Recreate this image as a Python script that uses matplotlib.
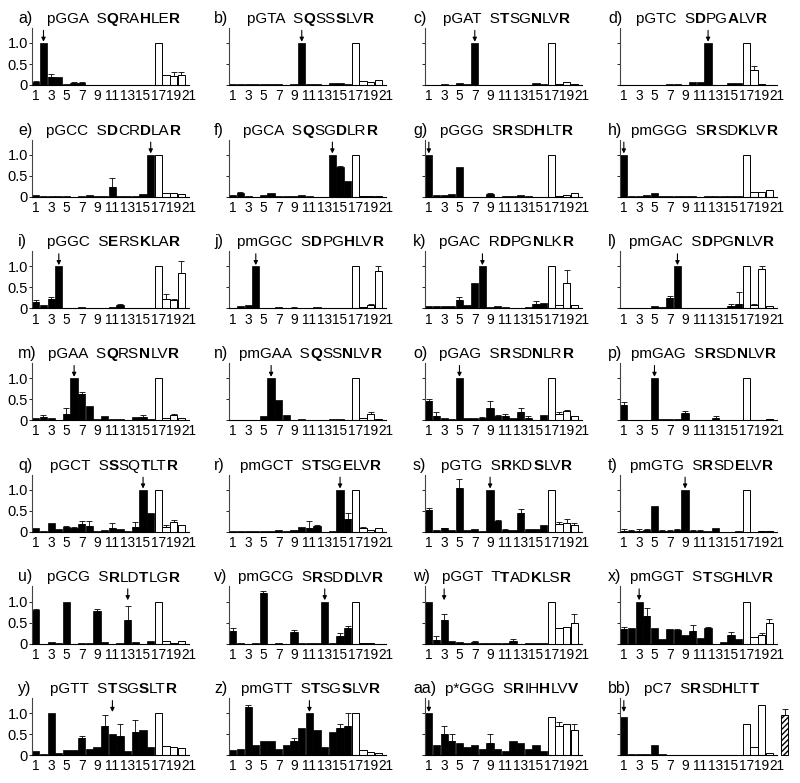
import numpy as np
import matplotlib
matplotlib.use('Agg')
import matplotlib.pyplot as plt
from matplotlib.text import Annotation

plt.rcParams['font.family'] = ['Liberation Sans', 'DejaVu Sans']

# panel labels, plasmid names, peptide sequences, arrowed position
labels = ["a)", "b)", "c)", "d)", "e)", "f)", "g)", "h)", "i)", "j)", "k)", "l)",
          "m)", "n)", "o)", "p)", "q)", "r)", "s)", "t)", "u)", "v)", "w)", "x)",
          "y)", "z)", "aa)", "bb)"]
names = ["pGGA", "pGTA", "pGAT", "pGTC", "pGCC", "pGCA", "pGGG", "pmGGG",
         "pGGC", "pmGGC", "pGAC", "pmGAC", "pGAA", "pmGAA", "pGAG", "pmGAG",
         "pGCT", "pmGCT", "pGTG", "pmGTG", "pGCG", "pmGCG", "pGGT", "pmGGT",
         "pGTT", "pmGTT", "p*GGG", "pC7"]
seqs = ["SQRAHLER", "SQSSSLVR", "STSGNLVR", "SDPGALVR", "SDCRDLAR", "SQSGDLRR",
        "SRSDHLTR", "SRSDKLVR", "SERSKLAR", "SDPGHLVR", "RDPGNLKR", "SDPGNLVR",
        "SQRSNLVR", "SQSSNLVR", "SRSDNLRR", "SRSDNLVR", "SSSQTLTR", "STSGELVR",
        "SRKDSLVR", "SRSDELVR", "SRLDTLGR", "SRSDDLVR", "TTADKLSR", "STSGHLVR",
        "STSGSLTR", "STSGSLVR", "SRIHHLVV", "SRSDHLTT"]
arrows = [2, 10, 7, 12, 16, 14, 1, 1, 4, 4, 8, 8, 6, 6, 5, 5, 15, 15, 9, 9,
          13, 13, 3, 3, 11, 11, 1, 1]

# relative binding, positions 1-16 (black bars)
black = [
    [0.08, 1.0, 0.2, 0.18, 0.02, 0.05, 0.04, 0.01, 0, 0.01, 0.01, 0, 0, 0, 0, 0],
    [0.02, 0.03, 0.03, 0.02, 0.02, 0.02, 0.02, 0.01, 0.03, 1.0, 0.03, 0.02, 0.01, 0.04, 0.04, 0.03],
    [0.01, 0.01, 0.02, 0.01, 0.05, 0.02, 1.0, 0.01, 0.01, 0, 0, 0, 0.01, 0, 0.04, 0.02],
    [0.01, 0.01, 0.01, 0.01, 0.01, 0.01, 0.02, 0.02, 0.01, 0.06, 0.06, 1.0, 0.01, 0.01, 0.04, 0.05],
    [0.03, 0.01, 0.02, 0.01, 0.01, 0, 0.02, 0.03, 0.01, 0.02, 0.22, 0.01, 0.01, 0.02, 0.07, 1.0],
    [0.03, 0.08, 0.02, 0, 0.04, 0.1, 0.02, 0.01, 0.02, 0.03, 0.01, 0, 0, 1.0, 0.7, 0.37],
    [1.0, 0.05, 0.03, 0.06, 0.7, 0, 0, 0, 0.07, 0, 0.01, 0.02, 0.05, 0.01, 0, 0],
    [1.0, 0.01, 0.02, 0.05, 0.1, 0.01, 0.01, 0.01, 0.02, 0.01, 0, 0.02, 0.01, 0.01, 0.01, 0.01],
    [0.15, 0.08, 0.22, 1.0, 0.02, 0.01, 0.03, 0.02, 0.01, 0.01, 0.03, 0.08, 0.01, 0.02, 0.02, 0.02],
    [0.02, 0.06, 0.07, 1.0, 0.02, 0.01, 0.03, 0.01, 0.02, 0.01, 0.01, 0.04, 0, 0.01, 0.01, 0.02],
    [0.05, 0.05, 0.06, 0.05, 0.2, 0.08, 0.6, 1.0, 0.04, 0.05, 0.04, 0.02, 0.02, 0.04, 0.1, 0.12],
    [0, 0, 0, 0, 0.05, 0.03, 0.25, 1.0, 0, 0, 0.01, 0.01, 0, 0.01, 0.05, 0.1],
    [0.05, 0.07, 0.04, 0.01, 0.15, 1.0, 0.62, 0.34, 0.02, 0.1, 0.03, 0.03, 0.01, 0.08, 0.07, 0.03],
    [0.01, 0.01, 0.01, 0.01, 0.1, 1.0, 0.47, 0.13, 0.01, 0.03, 0.01, 0.01, 0.01, 0.03, 0.03, 0.01],
    [0.45, 0.1, 0.05, 0.03, 1.0, 0.06, 0.04, 0.06, 0.3, 0.1, 0.1, 0.05, 0.2, 0.05, 0, 0.12],
    [0.35, 0, 0.01, 0, 1.0, 0.02, 0.02, 0.03, 0.18, 0, 0, 0.01, 0.05, 0, 0, 0],
    [0.08, 0.02, 0.2, 0.06, 0.12, 0.08, 0.18, 0.15, 0.02, 0.05, 0.1, 0.07, 0.02, 0.12, 1.0, 0.45],
    [0.01, 0.01, 0.03, 0.01, 0.01, 0.01, 0.05, 0.03, 0.04, 0.12, 0.1, 0.13, 0, 0.01, 1.0, 0.3],
    [0.52, 0.05, 0.08, 0.04, 1.05, 0.04, 0.07, 0.03, 1.0, 0.25, 0.04, 0.04, 0.45, 0.06, 0.06, 0.17],
    [0.03, 0.02, 0.03, 0.04, 0.62, 0.03, 0.02, 0.04, 1.0, 0.03, 0.03, 0.01, 0.1, 0, 0, 0.01],
    [0.8, 0, 0.04, 0.02, 1.0, 0, 0.01, 0.01, 0.78, 0.03, 0, 0.01, 0.55, 0.04, 0, 0.05],
    [0.3, 0.01, 0, 0.01, 1.2, 0, 0.01, 0, 0.28, 0.01, 0.01, 0.01, 1.0, 0.02, 0.17, 0.38],
    [1.0, 0.08, 0.55, 0.05, 0.03, 0.02, 0.04, 0.02, 0.01, 0.02, 0.01, 0.05, 0, 0.01, 0.01, 0.01],
    [0.35, 0.37, 1.0, 0.65, 0.37, 0.1, 0.35, 0.32, 0.2, 0.3, 0.12, 0.37, 0, 0.03, 0.2, 0.1],
    [0.1, 0.02, 1.0, 0.05, 0.12, 0.12, 0.4, 0.15, 0.2, 0.7, 0.5, 0.45, 0.1, 0.55, 0.6, 0.2],
    [0.12, 0.15, 1.15, 0.25, 0.35, 0.35, 0.15, 0.25, 0.35, 0.65, 1.0, 0.6, 0.2, 0.55, 0.65, 0.7],
    [1.0, 0.25, 0.5, 0.35, 0.3, 0.2, 0.25, 0.15, 0.3, 0.15, 0.1, 0.35, 0.3, 0.15, 0.25, 0.1],
    [0.9, 0.03, 0.02, 0.02, 0.25, 0.03, 0.01, 0.01, 0.01, 0.01, 0.01, 0.01, 0.01, 0.01, 0.01, 0.01],
]

# positions 17-20 (white bars)
white = [
    [1.0, 0.25, 0.22, 0.25], [1.0, 0.1, 0.08, 0.12], [1.0, 0.03, 0.06, 0.02], [1.0, 0.35, 0.02, 0.01],
    [1.0, 0.08, 0.08, 0.07], [1.0, 0.01, 0.01, 0.01], [1.0, 0.02, 0.05, 0.08], [1.0, 0.12, 0.12, 0.17],
    [1.0, 0.22, 0.2, 0.85], [1.0, 0.03, 0.08, 0.9], [1.0, 0.07, 0.6, 0.07], [1.0, 0.08, 0.93, 0.05],
    [1.0, 0.05, 0.13, 0.04], [1.0, 0.05, 0.15, 0.02], [1.0, 0.15, 0.22, 0.1], [1.0, 0.01, 0.01, 0.02],
    [1.0, 0.12, 0.23, 0.17], [1.0, 0.1, 0.05, 0.1], [1.0, 0.18, 0.2, 0.17], [1.0, 0, 0.01, 0.01],
    [1.0, 0.06, 0.02, 0.05], [1.0, 0.01, 0.01, 0], [1.0, 0.37, 0.4, 0.5], [1.0, 0.15, 0.2, 0.5],
    [1.0, 0.22, 0.2, 0.18], [1.0, 0.12, 0.08, 0.05], [0.9, 0.7, 0.75, 0.6], [0.75, 0.2, 1.2, 0.05],
]

# upper error bars {position: error}
errors = [
    {1: 0.02, 3: 0.07, 6: 0.03, 7: 0.03, 19: 0.08, 20: 0.07}, {}, {}, {18: 0.1},
    {11: 0.22}, {2: 0.04, 15: 0.02}, {9: 0.03}, {},
    {1: 0.05, 3: 0.04, 12: 0.03, 18: 0.12, 19: 0.03, 20: 0.28}, {9: 0.02, 19: 0.02, 20: 0.1},
    {5: 0.08, 15: 0.07, 19: 0.32, 20: 0.02}, {7: 0.05, 15: 0.05, 16: 0.3, 18: 0.02, 19: 0.07},
    {2: 0.05, 5: 0.15, 7: 0.05, 15: 0.05, 19: 0.02}, {19: 0.05},
    {1: 0.05, 2: 0.1, 8: 0.02, 9: 0.15, 10: 0.03, 11: 0.05, 13: 0.1, 14: 0.05, 18: 0.05, 19: 0.03},
    {1: 0.07, 9: 0.03, 13: 0.04},
    {5: 0.02, 6: 0.04, 7: 0.08, 8: 0.1, 11: 0.1, 14: 0.12, 18: 0.05, 19: 0.04},
    {11: 0.15, 12: 0.04, 16: 0.15, 18: 0.02},
    {1: 0.05, 3: 0.01, 5: 0.2, 10: 0.04, 11: 0.03, 13: 0.1, 18: 0.05, 19: 0.1, 20: 0.05},
    {1: 0.03, 2: 0.03, 3: 0.03, 4: 0.03, 6: 0.02, 7: 0.02, 8: 0.02, 10: 0.01, 11: 0.01},
    {1: 0.03, 9: 0.03, 13: 0.35}, {1: 0.07, 5: 0.05, 9: 0.05, 15: 0.08, 16: 0.04},
    {2: 0.1, 3: 0.15, 7: 0.02, 12: 0.05, 20: 0.2},
    {1: 0.05, 4: 0.2, 8: 0.03, 10: 0.15, 12: 0.03, 15: 0.08, 19: 0.05, 20: 0.08},
    {7: 0.05, 10: 0.25, 12: 0.3, 14: 0.3}, {3: 0.05, 9: 0.05, 15: 0.1, 16: 0.3},
    {3: 0.2, 4: 0.15, 9: 0.2, 18: 0.1, 20: 0.15}, {},
]

# extra hatched control bar in panel bb
hatch_value = 0.95
hatch_err = 0.15

W, H = 800, 783
fig = plt.figure(figsize=(8, 7.83), dpi=100)

col_left = [32, 229, 425, 620]
label_left = [18, 214, 413, 608]
ax_w = 157
unit_h = 42
ytop = 1.36
row_base = [85 + 111.7 * r for r in range(7)]
fs_title = 11


def rich_title(yb, name, seq):
    parts = [(name + "  " + seq[0], 'normal'), (seq[1], 'bold'), (seq[2:4], 'normal'),
             (seq[4], 'bold'), (seq[5:7], 'normal'), (seq[7], 'bold')]
    first = fig.text(0, 1 - yb / H, parts[0][0], fontsize=fs_title,
                     fontweight=parts[0][1], va='baseline', ha='left')
    prev = first
    for s, wgt in parts[1:]:
        a = Annotation(s, xy=(1, 0), xycoords=prev, va='bottom', ha='left',
                       fontsize=fs_title, fontweight=wgt)
        fig.add_artist(a)
        prev = a
    return first, prev


titles = []
for i in range(len(labels)):
    r, c = divmod(i, 4)
    left = col_left[c]
    base = row_base[r]
    ax = fig.add_axes([left / W, (H - base) / H, ax_w / W, ytop * unit_h / H])

    vals = list(black[i]) + list(white[i])
    ax.bar(np.arange(1, 17), black[i], width=0.95, color='black',
           edgecolor='black', linewidth=0.5)
    ax.bar(np.arange(17, 21), white[i], width=0.95, color='white',
           edgecolor='black', linewidth=0.7)
    for pos, e in errors[i].items():
        ax.errorbar(pos, vals[pos - 1], yerr=[[0], [e]], fmt='none', ecolor='black',
                    elinewidth=0.6, capsize=2, capthick=0.6)

    if labels[i] == "bb)":
        ax.bar(22, hatch_value, width=0.95, color='white', edgecolor='black',
               linewidth=0.7, hatch='//////', clip_on=False)
        ax.errorbar(22, hatch_value, yerr=[[0], [hatch_err]], fmt='none', ecolor='black',
                    elinewidth=0.6, capsize=2, capthick=0.6, clip_on=False)

    p = arrows[i]
    top = max(vals[p - 1] + errors[i].get(p, 0), 1.0) + 0.03
    ax.annotate('', xy=(p, top), xytext=(p, top + 0.27),
                arrowprops=dict(arrowstyle='-|>', color='black', lw=0.8,
                                shrinkA=0, shrinkB=0, mutation_scale=6),
                annotation_clip=False)

    ax.set_xlim(0.5, 20.65)
    ax.set_ylim(0, ytop)
    for s in ['top', 'right']:
        ax.spines[s].set_visible(False)
    ax.spines['left'].set_color('#444444')
    ax.spines['left'].set_linewidth(0.8)
    ax.spines['bottom'].set_linewidth(0.8)
    ax.set_xticks(np.arange(1, 22, 2))
    ax.tick_params(axis='x', length=0, labelsize=9.8, pad=3)
    ax.set_yticks([0, 0.5, 1.0])
    ax.tick_params(axis='y', length=2.5, width=0.6, labelsize=10.5, pad=0.5)
    if c == 0:
        ax.set_yticklabels(['0', '0.5', '1.0'])
    else:
        ax.set_yticklabels([])
    ax.patch.set_visible(False)

    lab = fig.text(label_left[c] / W, 1 - (base - 62) / H, labels[i], fontsize=fs_title + 0.5,
                   va='baseline', ha='left')
    first, last = rich_title(base - 62, names[i], seqs[i])
    titles.append((first, last, lab, left + ax_w / 2 + 3))

# center the composite titles over each panel, keeping clear of the panel letter
fig.canvas.draw()
for first, last, lab, xc in titles:
    x0 = first.get_window_extent().x0
    x1 = last.get_window_extent().x1
    w = x1 - x0
    start = max(xc - w / 2, lab.get_window_extent().x1 + 9)
    first.set_x(start / W)

fig.savefig('out.png', dpi=100)
